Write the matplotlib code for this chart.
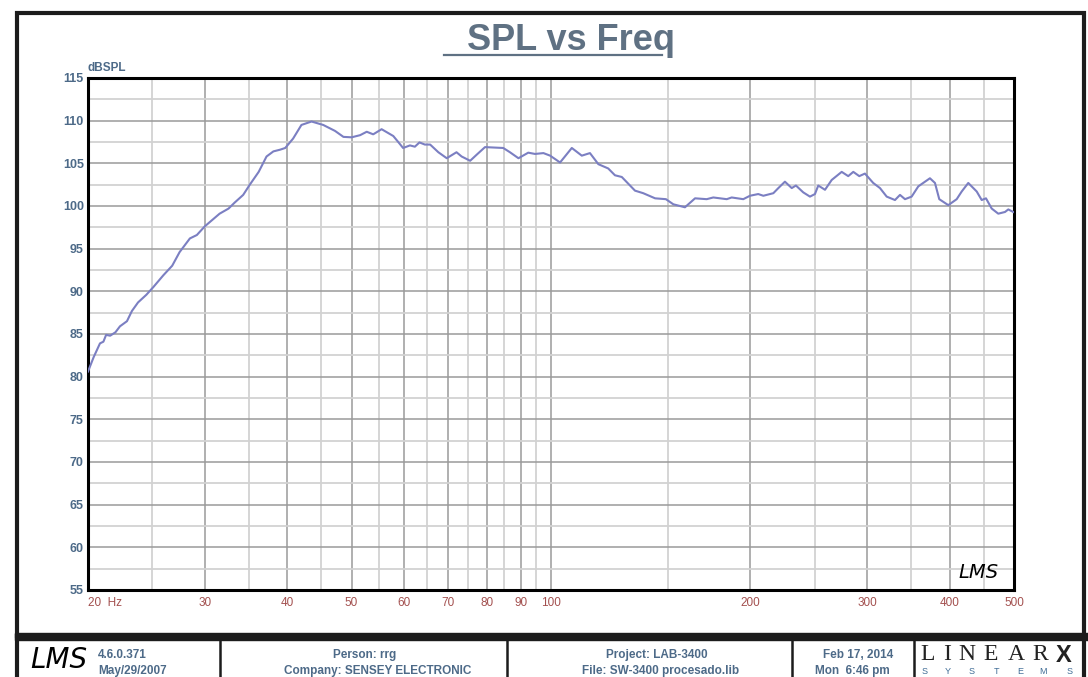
"""SPL vs Freq plot in the LMS / LinearX report style."""

import matplotlib
matplotlib.use("Agg")
import matplotlib.pyplot as plt
from matplotlib.lines import Line2D
from matplotlib.patches import Rectangle

W, H = 1088, 677

freq_hz = [20.0, 20.4, 20.85, 21.1, 21.3, 21.6, 22.0, 22.35, 22.9, 23.3, 23.8, 24.5,
           25.1, 26.0, 26.8, 27.5, 28.5, 29.2, 30.0, 31.6, 32.6, 33.3, 34.3, 35.1,
           36.2, 37.2, 38.1, 39.0, 39.7, 40.8, 42.0, 43.5, 45.3, 47.2, 48.6, 50.0,
           51.5, 52.7, 53.9, 55.5, 57.8, 58.8, 59.8, 61.25, 62.3, 63.3, 64.5, 65.7,
           67.6, 69.6, 72.0, 73.3, 75.5, 77.2, 79.5, 84.7, 86.7, 89.3, 92.4, 94.6,
           97.4, 99.7, 103.2, 107.5, 111.3, 114.5, 117.9, 122.0, 124.9, 127.9, 133.9,
           137.8, 143.6, 149.1, 153.0, 159.3, 165.0, 171.8, 175.8, 184.2, 187.4,
           195.1, 199.7, 205.5, 209.2, 216.6, 220.4, 225.5, 230.9, 234.3, 240.3,
           246.0, 250.3, 253.2, 259.2, 265.3, 274.7, 281.0, 286.0, 292.0, 297.8,
           306.5, 313.8, 321.2, 330.6, 336.4, 342.3, 350.3, 358.5, 373.3, 379.9,
           385.6, 397.9, 409.7, 416.9, 426.5, 439.2, 446.9, 453.6, 462.7, 473.4,
           484.6, 490.2, 498.7]
spl_db = [80.6, 82.3, 83.9, 84.1, 84.9, 84.8, 85.2, 85.9, 86.5, 87.7, 88.7, 89.6,
          90.5, 91.9, 93.0, 94.6, 96.2, 96.6, 97.6, 99.1, 99.7, 100.4, 101.3, 102.5,
          104.0, 105.8, 106.4, 106.6, 106.8, 107.9, 109.5, 109.9, 109.5, 108.8, 108.1, 108.05,
          108.3, 108.7, 108.4, 109.0, 108.2, 107.5, 106.8, 107.1, 106.95, 107.45, 107.2, 107.2,
          106.3, 105.6, 106.3, 105.8, 105.3, 106.0, 106.9, 106.8, 106.3, 105.6, 106.25, 106.1,
          106.2, 105.9, 105.1, 106.8, 105.9, 106.2, 104.9, 104.4, 103.6, 103.4, 101.8,
          101.5, 100.9, 100.8, 100.2, 99.85, 100.9, 100.8, 101.0, 100.8, 101.0,
          100.8, 101.2, 101.4, 101.2, 101.5, 102.1, 102.85, 102.1, 102.4, 101.6,
          101.1, 101.4, 102.4, 101.9, 103.05, 104.0, 103.5, 104.0, 103.5, 103.8,
          102.7, 102.1, 101.1, 100.7, 101.3, 100.8, 101.1, 102.3, 103.25, 102.7,
          100.8, 100.1, 100.8, 101.7, 102.7, 101.7, 100.7, 100.9, 99.7, 99.1,
          99.3, 99.6, 99.3]

x_major = [20, 30, 40, 50, 60, 70, 80, 90, 100, 200, 300, 400, 500]
x_labels = ["20  Hz", "30", "40", "50", "60", "70", "80", "90", "100",
            "200", "300", "400", "500"]
x_minor = [25, 35, 45, 55, 65, 75, 85, 95, 150, 250, 350, 450]
y_major = list(range(55, 116, 5))
y_minor = [57.5 + 5 * i for i in range(12)]

LINE = "#7b7fc2"
BLUE = "#4d6a88"
RED = "#a3504f"
TITLE = "#5f7183"
INK = "#1c1c1c"

plt.rcParams.update({"font.family": ["Liberation Sans", "DejaVu Sans"]})


def fx(px):
    return px / W


def fy(py):
    return 1 - py / H


fig = plt.figure(figsize=(W / 100, H / 100), dpi=100)
ax = fig.add_axes([fx(88), fy(590), (1014 - 88) / W, (590 - 78) / H])
ax.plot(freq_hz, spl_db, color=LINE, lw=1.5, zorder=3)

ax.set_xscale("log")
ax.set_xlim(20, 500)
ax.set_ylim(55, 115)
ax.set_xticks(x_major)
ax.set_xticklabels(x_labels)
ax.set_xticks(x_minor, minor=True)
ax.set_xticklabels([""] * len(x_minor), minor=True)
ax.set_yticks(y_major)
ax.set_yticks(y_minor, minor=True)
ax.grid(which="major", color="#9a9a9a", lw=1.1)
ax.grid(which="minor", color="#d2d2d2", lw=1.3)
ax.set_axisbelow(True)
ax.tick_params(which="both", length=0)
ax.tick_params(axis="x", pad=5, labelsize=8.5, labelcolor=RED)
ax.tick_params(axis="y", pad=3, labelsize=9)
for t in ax.get_yticklabels():
    t.set_fontweight("bold"); t.set_color(BLUE)
ax.get_xticklabels()[0].set_ha("left")
for s in ax.spines.values():
    s.set_linewidth(2.2); s.set_color("black")

# little LMS mark inside the plot, bottom right
fig.text(fx(958), fy(572), "LMS", fontsize=14, style="italic", family="DejaVu Sans",
         color="black", ha="left", va="center")

# title with underline
fig.text(fx(571), fy(41), "SPL vs Freq", fontsize=26, fontweight="bold",
         color=TITLE, ha="center", va="center")
fig.add_artist(Line2D([fx(444), fx(662)], [fy(55), fy(55)], color=TITLE, lw=1.6))
fig.text(fx(88), fy(68), "dBSPL", fontsize=8.5, fontweight="bold", color=BLUE,
         ha="left", va="center")

# outer frame and footer
fig.add_artist(Rectangle((fx(16.5), fy(636)), fx(1084) - fx(16.5), fy(13) - fy(636),
                         fill=False, ec=INK, lw=3, transform=fig.transFigure))
fig.add_artist(Rectangle((fx(15), fy(640)), 1 - fx(15), fy(633) - fy(640), color=INK,
                         transform=fig.transFigure))
for xp in (16.5, 220, 507, 792, 913.5, 1084):
    fig.add_artist(Line2D([fx(xp), fx(xp)], [fy(636), 0], color=INK,
                          lw=3 if xp in (16.5, 1084) else 1.8))

foot = dict(fontsize=8.5, fontweight="bold", color=BLUE, va="center")
fig.text(fx(98), fy(655), "4.6.0.371", ha="left", **foot)
fig.text(fx(98), fy(671), "May/29/2007", ha="left", **foot)
fig.text(fx(365), fy(655), "Person: rrg", ha="center", **foot)
fig.text(fx(378), fy(671), "Company: SENSEY ELECTRONIC", ha="center", **foot)
fig.text(fx(657), fy(655), "Project: LAB-3400", ha="center", **foot)
fig.text(fx(661), fy(671), "File: SW-3400 procesado.lib", ha="center", **foot)
fig.text(fx(858), fy(655), "Feb 17, 2014", ha="center", **foot)
fig.text(fx(852), fy(671), "Mon  6:46 pm", ha="center", **foot)
fig.text(fx(30), fy(660), "LMS", fontsize=20, style="italic", family="DejaVu Sans",
         color="black", ha="left", va="center")

for ch, xp in zip("LINEAR", (928, 947, 967, 991, 1016, 1040)):
    fig.text(fx(xp), fy(655), ch, fontsize=17, family="Liberation Serif",
             color="#222222", ha="center", va="center")
fig.text(fx(1064), fy(655), "X", fontsize=17, fontweight="bold",
         family="Liberation Sans", color="#222222", ha="center", va="center")
for ch, xp in zip("SYSTEMS", (925, 948, 972, 997, 1020, 1043, 1070)):
    fig.text(fx(xp), fy(672), ch, fontsize=6.5, color="#3f6c96",
             ha="center", va="center")

fig.savefig("out.png", dpi=100)
